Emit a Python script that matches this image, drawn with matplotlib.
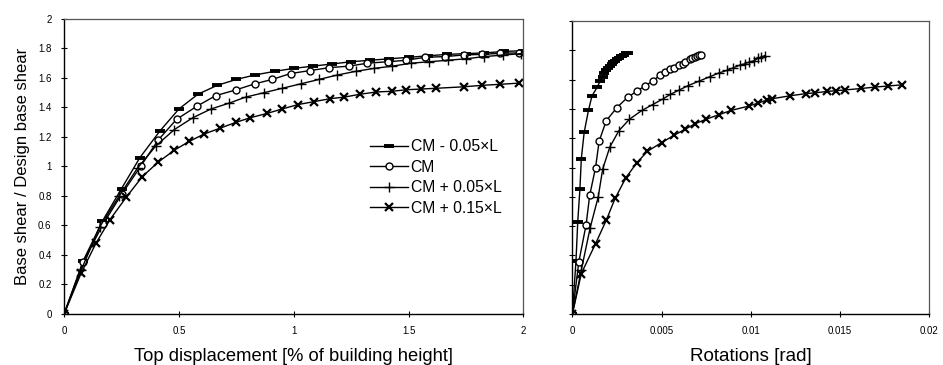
import matplotlib.pyplot as plt
import numpy as np

plt.rcParams['font.family'] = ['Liberation Sans', 'DejaVu Sans']

# Pushover results: base shear ratio vs top displacement and vs floor rotation
shear_m005 = [0, 0.36, 0.63, 0.85, 1.06, 1.24, 1.39, 1.49, 1.55, 1.59, 1.62, 1.645, 1.665,
              1.68, 1.695, 1.71, 1.72, 1.73, 1.74, 1.75, 1.76, 1.765, 1.77, 1.78, 1.785]
disp_m005 = [0, 0.083, 0.167, 0.25, 0.33, 0.417, 0.5, 0.583, 0.667, 0.75, 0.83, 0.917, 1.0,
             1.083, 1.167, 1.25, 1.33, 1.417, 1.5, 1.583, 1.667, 1.75, 1.83, 1.917, 2.0]
rot_m005 = [0, 0.0002, 0.0003, 0.00042, 0.0005, 0.00066, 0.0009, 0.0011, 0.0014, 0.00155,
            0.0017, 0.0018, 0.0019, 0.002, 0.0021, 0.0022, 0.0023, 0.0024, 0.0025, 0.0026,
            0.0027, 0.0028, 0.0029, 0.003, 0.0031]

shear_cm = [0, 0.355, 0.61, 0.81, 1.0, 1.18, 1.32, 1.41, 1.48, 1.52, 1.56, 1.59, 1.63, 1.65,
            1.67, 1.68, 1.70, 1.71, 1.72, 1.74, 1.745, 1.756, 1.76, 1.767, 1.77]
disp_cm = [0, 0.084, 0.17, 0.25, 0.333, 0.41, 0.49, 0.58, 0.66, 0.75, 0.83, 0.906, 0.986,
           1.07, 1.155, 1.24, 1.32, 1.41, 1.49, 1.57, 1.66, 1.74, 1.82, 1.90, 1.98]
rot_cm = [0, 0.00036, 0.00077, 0.00097, 0.0013, 0.0015, 0.0019, 0.0025, 0.0031, 0.0036,
          0.0041, 0.0045, 0.0049, 0.0052, 0.0055, 0.0057, 0.006, 0.0062, 0.0063, 0.0066,
          0.0067, 0.0069, 0.007, 0.0071, 0.0072]

shear_p005 = [0, 0.3, 0.59, 0.8, 0.99, 1.14, 1.25, 1.33, 1.39, 1.43, 1.47, 1.5, 1.53, 1.56,
              1.59, 1.62, 1.645, 1.665, 1.68, 1.70, 1.71, 1.72, 1.73, 1.745, 1.755, 1.765]
disp_p005 = [0, 0.075, 0.155, 0.24, 0.32, 0.4, 0.48, 0.56, 0.64, 0.72, 0.79, 0.87, 0.95,
             1.03, 1.11, 1.19, 1.27, 1.35, 1.43, 1.51, 1.59, 1.67, 1.75, 1.83, 1.91, 1.99]
rot_p005 = [0, 0.0005, 0.001, 0.00145, 0.0017, 0.0021, 0.0026, 0.0032, 0.0039, 0.0045,
            0.0051, 0.0055, 0.006, 0.0065, 0.0071, 0.0077, 0.0082, 0.0087, 0.009, 0.0094,
            0.0097, 0.0099, 0.0102, 0.0104, 0.0106, 0.0108]

shear_p015 = [0, 0.276, 0.48, 0.64, 0.79, 0.93, 1.03, 1.11, 1.17, 1.22, 1.26, 1.30, 1.33,
              1.36, 1.39, 1.42, 1.44, 1.46, 1.47, 1.49, 1.505, 1.51, 1.52, 1.525, 1.53,
              1.54, 1.55, 1.557, 1.565]
disp_p015 = [0, 0.074, 0.139, 0.2, 0.27, 0.34, 0.41, 0.48, 0.545, 0.61, 0.68, 0.75, 0.81,
             0.885, 0.95, 1.02, 1.09, 1.16, 1.22, 1.29, 1.36, 1.43, 1.49, 1.555, 1.62,
             1.74, 1.82, 1.90, 1.98]
rot_p015 = [0, 0.0005, 0.0013, 0.0019, 0.0024, 0.003, 0.0036, 0.0042, 0.005, 0.0057,
            0.0063, 0.0069, 0.0075, 0.0082, 0.0089, 0.0099, 0.0104, 0.0109, 0.0112, 0.0122,
            0.0131, 0.0136, 0.0143, 0.0148, 0.0153, 0.0162, 0.017, 0.0177, 0.0185]

labels = ['CM - 0.05×L', 'CM', 'CM + 0.05×L', 'CM + 0.15×L']

series = [
    (disp_m005, rot_m005, shear_m005, dict(marker='_', ms=7, mew=2.8)),
    (disp_cm, rot_cm, shear_cm, dict(marker='o', ms=5, mfc='white', mew=1.0)),
    (disp_p005, rot_p005, shear_p005, dict(marker='+', ms=7, mew=1.0)),
    (disp_p015, rot_p015, shear_p015, dict(marker='x', ms=5.5, mew=1.6)),
]

fig = plt.figure(figsize=(9.43, 3.65), dpi=100)
ax1 = fig.add_axes([0.068, 0.14, 0.487, 0.808])
ax2 = fig.add_axes([0.607, 0.14, 0.378, 0.802])

for (d, r, s, style), lab in zip(series, labels):
    ax1.plot(d, s, color='black', lw=1.0, label=lab, **style)
    ax2.plot(r, s, color='black', lw=1.0, **style)

yticks = np.arange(0, 2.01, 0.2)
ytick_labels = ['0', '0.2', '0.4', '0.6', '0.8', '1', '1.2', '1.4', '1.6', '1.8', '2']

ax1.set_xlim(0, 2)
ax1.set_ylim(0, 2)
ax1.set_xticks([0, 0.5, 1, 1.5, 2])
ax1.set_xticklabels(['0', '0.5', '1', '1.5', '2'])
ax1.set_yticks(yticks)
ax1.set_yticklabels(ytick_labels)
ax1.set_xlabel('Top displacement [% of building height]', fontsize=13.2, labelpad=8)
ax1.set_ylabel('Base shear / Design base shear', fontsize=12, labelpad=6)

ax2.set_xlim(0, 0.02)
ax2.set_ylim(0, 2)
ax2.set_xticks([0, 0.005, 0.01, 0.015, 0.02])
ax2.set_xticklabels(['0', '0.005', '0.01', '0.015', '0.02'])
ax2.set_yticks(yticks)
ax2.set_yticklabels([])
ax2.set_xlabel('Rotations [rad]', fontsize=13.5, labelpad=8)

for ax in (ax1, ax2):
    ax.tick_params(direction='inout', length=4, width=0.8, labelsize=7, pad=7)
    for side in ('left', 'bottom'):
        ax.spines[side].set_linewidth(1.0)
    for side in ('top', 'right'):
        ax.spines[side].set_color('#555555')
        ax.spines[side].set_linewidth(0.9)

ax1.legend(loc='upper left', bbox_to_anchor=(0.635, 0.64), frameon=False, fontsize=11.3,
           handlelength=2.4, handletextpad=0.2, labelspacing=0.35)

fig.savefig('out.png', dpi=100)
